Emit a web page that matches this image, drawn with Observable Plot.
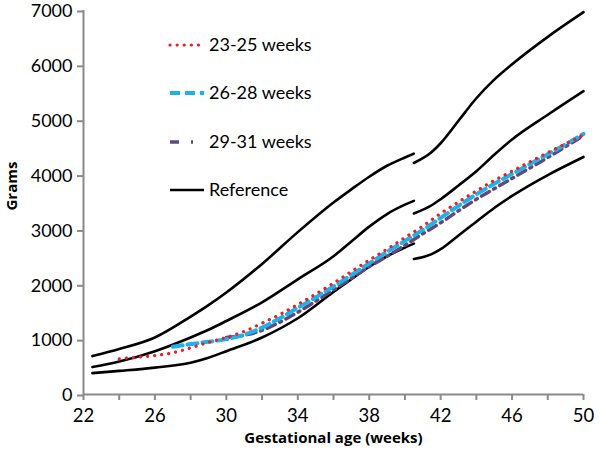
<!DOCTYPE html>
<html>
<head>
<meta charset="utf-8">
<script src="https://cdn.jsdelivr.net/npm/d3@7"></script>
<script src="https://cdn.jsdelivr.net/npm/@observablehq/plot@0.6"></script>
<style>
  html, body { margin: 0; padding: 0; background: #fff; }
  #wrap { position: relative; width: 600px; height: 453px; }
  #legend { position: absolute; left: 0; top: 0; pointer-events: none; }
</style>
</head>
<body>
<div id="wrap"></div>
<script>
// Reference curves (two pieces, break at ~40.5 weeks)
const refWeeksA = [22.5, 24, 26, 28, 29, 30, 32, 34, 36, 37, 38, 39, 40, 40.5];
const refTopA   = [700, 830, 1040, 1420, 1630, 1860, 2380, 2960, 3500, 3740, 3970, 4170, 4320, 4390];
const refMidA   = [500, 600, 790, 1040, 1180, 1340, 1680, 2100, 2520, 2790, 3060, 3290, 3460, 3530];
const refBotA   = [390, 430, 490, 580, 670, 790, 1040, 1390, 1870, 2100, 2330, 2520, 2680, 2750];

const refWeeksB = [40.5, 41.5, 42, 43, 44, 45, 46, 48, 50];
const refTopB   = [4220, 4420, 4580, 4990, 5400, 5740, 6020, 6520, 6970];
const refMidB   = [3300, 3450, 3560, 3810, 4070, 4370, 4650, 5100, 5530];
const refBotB   = [2470, 2560, 2650, 2900, 3150, 3400, 3620, 4000, 4330];

// Cohort curves
const weeks2325 = [24, 25, 26, 27, 28, 29, 30, 31, 32, 33, 34, 35, 36, 37, 38, 39, 40, 41, 42, 43, 44, 45, 46, 47, 48, 49, 50];
const grams2325 = [650, 680, 710, 760, 850, 950, 1040, 1150, 1300, 1460, 1640, 1830, 2030, 2240, 2450, 2650, 2860, 3070, 3300, 3510, 3710, 3900, 4070, 4240, 4410, 4570, 4730];

const weeks2628 = [27, 28, 29, 30, 31, 32, 33, 34, 35, 36, 37, 38, 39, 40, 41, 42, 43, 44, 45, 46, 47, 48, 49, 50];
const grams2628 = [870, 920, 960, 1010, 1090, 1220, 1390, 1580, 1770, 1970, 2180, 2390, 2600, 2800, 3000, 3220, 3440, 3650, 3840, 4020, 4200, 4380, 4560, 4750];

const weeks2931 = [30, 31, 32, 33, 34, 35, 36, 37, 38, 39, 40, 41, 42, 43, 44, 45, 46, 47, 48, 49, 50];
const grams2931 = [1040, 1080, 1170, 1320, 1500, 1700, 1910, 2120, 2330, 2520, 2720, 2930, 3130, 3350, 3560, 3750, 3940, 4130, 4320, 4520, 4720];

const xTicks = [22, 24, 26, 28, 30, 32, 34, 36, 38, 40, 42, 44, 46, 48, 50];
const yTicks = [0, 1000, 2000, 3000, 4000, 5000, 6000, 7000];

const legendLabels = ["23-25 weeks", "26-28 weeks", "29-31 weeks", "Reference"];

const refRows = [];
[["topA", refWeeksA, refTopA], ["midA", refWeeksA, refMidA], ["botA", refWeeksA, refBotA],
 ["topB", refWeeksB, refTopB], ["midB", refWeeksB, refMidB], ["botB", refWeeksB, refBotB]]
  .forEach(([k, ws, gs]) => ws.forEach((w, i) => refRows.push({key: k, w, g: gs[i]})));

const rows = (ws, gs) => ws.map((w, i) => ({w, g: gs[i]}));

const FONT = "Lato, 'Open Sans', sans-serif";
const TITLEFONT = "'Open Sans', sans-serif";
const AXIS = "#8a8a8a";

const chart = Plot.plot({
  width: 600,
  height: 453,
  marginTop: 10,
  marginBottom: 59,
  marginLeft: 83,
  marginRight: 17,
  style: {fontFamily: FONT, background: "white"},
  x: {domain: [22, 50], axis: null},
  y: {domain: [0, 7000], axis: null},
  marks: [
    Plot.ruleX([22], {stroke: AXIS, strokeWidth: 2}),
    Plot.ruleY([0], {stroke: AXIS, strokeWidth: 2}),
    Plot.axisX(xTicks, {tickSize: 6, stroke: AXIS, strokeWidth: 2, tickPadding: 8,
      tickFormat: d => (d % 4 === 2 ? String(d) : ""), fontSize: 18.5, fill: "#000", label: null}),
    Plot.axisY(yTicks, {tickSize: 6, stroke: AXIS, strokeWidth: 2, tickPadding: 5, dy: 1,
      tickFormat: d => String(d), fontSize: 18, fill: "#000", label: null}),
    Plot.text(["Gestational age (weeks)"], {frameAnchor: "bottom", dy: 48, fontSize: 15, fontWeight: "bold", fontFamily: TITLEFONT, fill: "#000"}),
    Plot.text(["Grams"], {frameAnchor: "left", dx: -71, dy: 8, rotate: -90, fontSize: 15, fontWeight: "bold", fontFamily: TITLEFONT, fill: "#000"}),
    Plot.line(refRows, {x: "w", y: "g", z: "key", stroke: "#000", strokeWidth: 2.6, curve: "monotone-x"}),
    Plot.line(rows(weeks2931, grams2931), {x: "w", y: "g", stroke: "#604a7b", strokeWidth: 3.5, strokeDasharray: "9,5,2,5", curve: "monotone-x"}),
    Plot.line(rows(weeks2628, grams2628), {x: "w", y: "g", stroke: "#1ab3ec", strokeWidth: 4, strokeDasharray: "10,5", curve: "monotone-x"}),
    Plot.line(rows(weeks2325, grams2325), {x: "w", y: "g", stroke: "#ee1c24", strokeWidth: 3.2, strokeDasharray: "0.1,7", strokeLinecap: "round", curve: "monotone-x"})
  ]
});

const wrap = document.getElementById("wrap");
wrap.appendChild(chart);

// Legend overlay
const ns = "http://www.w3.org/2000/svg";
const leg = document.createElementNS(ns, "svg");
leg.setAttribute("id", "legend");
leg.setAttribute("width", 600);
leg.setAttribute("height", 453);
const styles = [
  {stroke: "#ee1c24", width: 3.2, dash: "0.1,7", cap: "round"},
  {stroke: "#1ab3ec", width: 4, dash: "10,5", cap: "butt"},
  {stroke: "#604a7b", width: 3.5, dash: "9,12,2,50", cap: "butt"},
  {stroke: "#000", width: 2.6, dash: null, cap: "butt"}
];
const legY = [45, 93, 142, 190];
legendLabels.forEach((lab, i) => {
  const s = styles[i];
  const ln = document.createElementNS(ns, "line");
  ln.setAttribute("x1", 170); ln.setAttribute("x2", 204);
  ln.setAttribute("y1", legY[i]); ln.setAttribute("y2", legY[i]);
  ln.setAttribute("stroke", s.stroke);
  ln.setAttribute("stroke-width", s.width);
  ln.setAttribute("stroke-linecap", s.cap);
  if (s.dash) ln.setAttribute("stroke-dasharray", s.dash);
  leg.appendChild(ln);
  const t = document.createElementNS(ns, "text");
  t.setAttribute("x", 209); t.setAttribute("y", legY[i]);
  t.setAttribute("dy", "0.35em");
  t.setAttribute("font-family", FONT);
  t.setAttribute("font-size", 18);
  t.setAttribute("fill", "#000");
  t.textContent = lab;
  leg.appendChild(t);
});
wrap.appendChild(leg);
</script>
</body>
</html>
